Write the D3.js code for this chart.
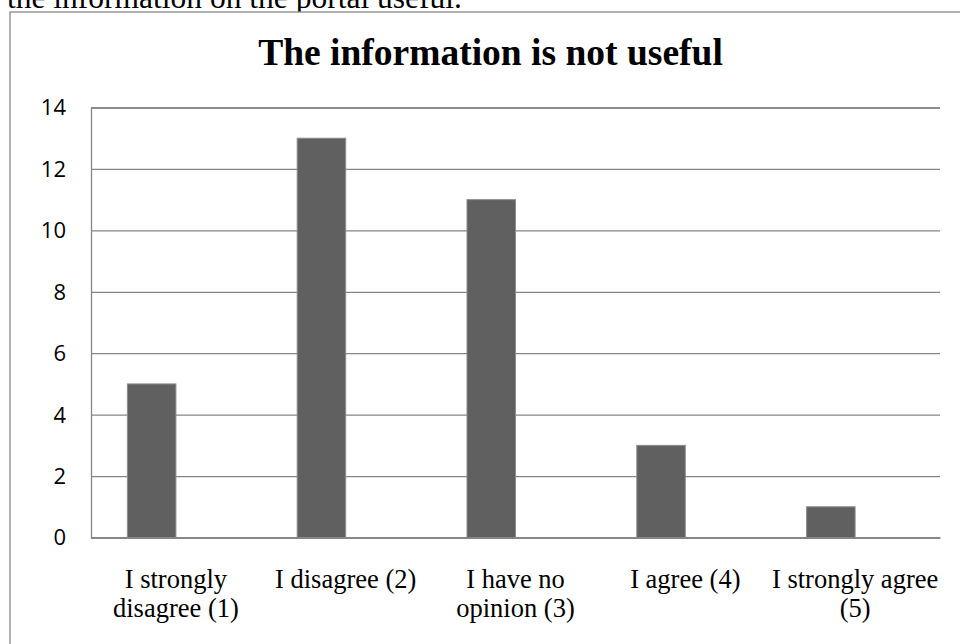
<!DOCTYPE html>
<html>
<head>
<meta charset="utf-8">
<script src="https://cdn.jsdelivr.net/npm/d3@7"></script>
<style>
  html, body { margin: 0; padding: 0; background: #fff; }
  svg { display: block; }
</style>
</head>
<body>
<svg id="chart" width="960" height="644"></svg>
<script>
// Survey answers and counts
const categories = [
  "I strongly disagree (1)",
  "I disagree (2)",
  "I have no opinion (3)",
  "I agree (4)",
  "I strongly agree (5)"
];
// Wrapped label lines for each category
const categoryLines = [
  ["I strongly", "disagree (1)"],
  ["I disagree (2)"],
  ["I have no", "opinion (3)"],
  ["I agree (4)"],
  ["I strongly agree", "(5)"]
];
// Two series slots per category; only the first carries values
const seriesNames = ["Series1", "Series2"];
const series1 = [5, 13, 11, 3, 1];
const yTicks = [0, 2, 4, 6, 8, 10, 12, 14];
const titleText = "The information is not useful";
const leadText = "the information on the portal useful.";

const svg = d3.select("#chart");

// Body text line running above the chart frame
svg.append("text")
  .attr("x", 7).attr("y", 8)
  .attr("font-family", "'Liberation Serif', 'Times New Roman', serif")
  .attr("font-size", 31.5)
  .attr("fill", "#000")
  .text(leadText);

// Chart frame
svg.append("rect")
  .attr("x", 10).attr("y", 12)
  .attr("width", 962).attr("height", 660)
  .attr("fill", "#fff")
  .attr("stroke", "#888")
  .attr("stroke-width", 1.3);

const plot = { left: 91, right: 940, top: 107.5, bottom: 537.5 };

const x = d3.scaleBand()
  .domain(categories)
  .range([plot.left, plot.right])
  .padding(0);

// Inner band: gap width of 150% around the pair of series slots
const x1 = d3.scaleBand()
  .domain(seriesNames)
  .range([0, x.bandwidth()])
  .paddingInner(0)
  .paddingOuter(0.75);

const y = d3.scaleLinear()
  .domain([0, 14])
  .range([plot.bottom, plot.top]);

// Horizontal gridlines
const yAxis = d3.axisLeft(y)
  .tickValues(yTicks)
  .tickSize(-(plot.right - plot.left))
  .tickFormat(d3.format("d"));

const gy = svg.append("g")
  .attr("transform", `translate(${plot.left},0)`)
  .call(yAxis);
gy.select(".domain").attr("stroke", "#868686").attr("stroke-width", 1.3);
gy.selectAll(".tick line").attr("stroke", "#868686").attr("stroke-width", 1.3);
gy.selectAll(".tick text")
  .attr("font-family", "'Open Sans', Lato, sans-serif")
  .attr("font-size", 22)
  .attr("fill", "#000")
  .attr("text-anchor", "end")
  .attr("x", -25)
  .attr("dy", "0.34em");

// Bars
svg.append("g")
  .selectAll("rect")
  .data(series1.map((v, i) => ({ cat: categories[i], value: v })))
  .join("rect")
  .attr("x", d => x(d.cat) + x1(seriesNames[0]))
  .attr("y", d => y(d.value))
  .attr("width", x1.bandwidth())
  .attr("height", d => y(0) - y(d.value))
  .attr("fill", "#606060")
  .attr("stroke", "#8c8c8c")
  .attr("stroke-width", 1);

// Category axis
const xAxis = d3.axisBottom(x).tickSize(0).tickFormat(() => "");
const gx = svg.append("g")
  .attr("transform", `translate(0,${plot.bottom})`)
  .call(xAxis);
gx.select(".domain").attr("stroke", "#868686").attr("stroke-width", 1.3);

const labels = svg.append("g")
  .selectAll("text")
  .data(categories)
  .join("text")
  .attr("x", d => x(d) + x.bandwidth() / 2)
  .attr("y", 588)
  .attr("text-anchor", "middle")
  .attr("font-family", "'Liberation Serif', 'Times New Roman', serif")
  .attr("font-size", 26.5)
  .attr("fill", "#000");
labels.each(function(d, i) {
  d3.select(this).selectAll("tspan")
    .data(categoryLines[i])
    .join("tspan")
    .attr("x", x(d) + x.bandwidth() / 2)
    .attr("dy", (t, j) => j === 0 ? 0 : 28.5)
    .text(t => t);
});

// Title
svg.append("text")
  .attr("x", 490.5).attr("y", 65)
  .attr("text-anchor", "middle")
  .attr("font-family", "'Liberation Serif', 'Times New Roman', serif")
  .attr("font-weight", "bold")
  .attr("font-size", 37.5)
  .attr("fill", "#000")
  .text(titleText);
</script>
</body>
</html>
